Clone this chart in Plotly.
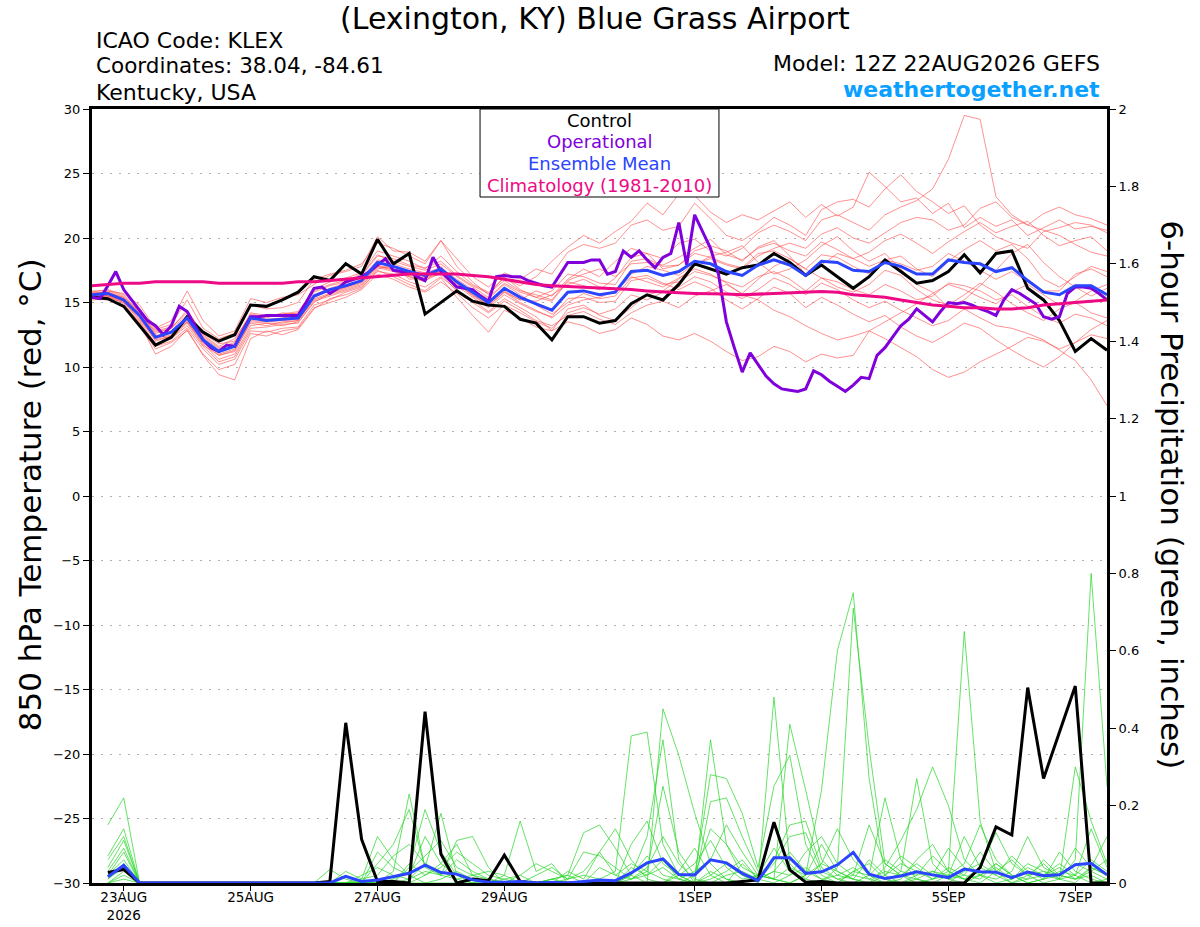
import pandas as pd
import plotly.graph_objects as go

# time axes: 6-hourly ensemble output, 3-hourly operational run
times = pd.date_range("2026-08-22 12:00", periods=65, freq="6h")
op_times = pd.date_range("2026-08-22 12:00", periods=129, freq="3h")
precip_times = times[1:]

tick_dates = ["2026-08-23", "2026-08-25", "2026-08-27", "2026-08-29",
              "2026-09-01", "2026-09-03", "2026-09-05", "2026-09-07"]
tick_labels = ["23AUG<br>2026", "25AUG", "27AUG", "29AUG", "1SEP", "3SEP", "5SEP", "7SEP"]

# 850 hPa temperature (C)
control_t = [15.4, 15.3, 14.7, 13.2, 11.7, 12.3, 13.9, 12.7, 12.0, 12.5, 14.8, 14.7, 15.2,
             15.8, 17.0, 16.7, 18.0, 17.2, 19.9, 18.0, 18.8, 14.1, 15.0, 15.9, 15.1, 14.8,
             14.7, 13.7, 13.4, 12.1, 13.9, 13.9, 13.4, 13.6, 14.9, 15.6, 15.2, 16.4, 18.0,
             17.6, 17.2, 17.7, 17.9, 18.8, 18.1, 17.1, 17.9, 17.0, 16.1, 17.0, 18.3, 17.4,
             16.5, 16.7, 17.4, 18.7, 17.3, 18.8, 19.0, 16.1, 15.2, 13.6, 11.2, 12.2, 11.3]
mean_t = [15.6, 15.7, 15.2, 14.0, 12.3, 12.7, 13.8, 12.1, 11.2, 11.6, 13.8, 13.6, 13.7,
          13.8, 15.5, 16.0, 16.3, 16.7, 18.1, 17.8, 17.4, 17.1, 17.6, 16.6, 15.8, 15.0,
          16.1, 15.4, 14.9, 14.4, 15.8, 15.9, 15.6, 15.8, 17.4, 17.5, 17.1, 17.4, 18.2,
          18.0, 17.4, 17.1, 17.9, 18.3, 17.9, 17.1, 18.2, 18.1, 17.5, 17.4, 18.1, 17.8,
          17.2, 17.2, 18.3, 18.1, 18.0, 17.4, 17.7, 16.7, 15.8, 15.6, 16.3, 16.3, 15.6]
clim_t = [16.3, 16.4, 16.5, 16.5, 16.6, 16.6, 16.6, 16.6, 16.5, 16.5, 16.5, 16.5, 16.5,
          16.6, 16.6, 16.7, 16.8, 16.9, 17.0, 17.1, 17.2, 17.2, 17.2, 17.2, 17.1, 17.0,
          16.8, 16.6, 16.4, 16.3, 16.25, 16.2, 16.15, 16.1, 16.0, 15.9, 15.8, 15.75, 15.7,
          15.7, 15.65, 15.6, 15.65, 15.7, 15.8, 15.85, 15.85, 15.8, 15.6, 15.5, 15.4, 15.2,
          15.0, 14.8, 14.7, 14.6, 14.6, 14.5, 14.5, 14.6, 14.8, 14.9, 15.0, 15.1, 15.2]
oper_t = [15.4, 15.3, 16.3, 17.4, 16.0, 15.2, 14.4, 13.6, 13.2, 12.5, 13.2, 14.7, 14.3, 13.2, 12.1, 11.5,
          11.2, 11.7, 11.6, 12.8, 13.9, 13.9, 14.0, 14.0, 14.0, 14.0, 14.0, 15.0, 16.1, 16.2, 15.7, 16.1,
          16.6, 16.8, 17.0, 17.4, 17.9, 18.4, 17.5, 17.4, 17.4, 17.0, 16.7, 18.5, 17.4, 16.8, 16.2, 16.1,
          16.0, 15.5, 15.1, 17.0, 17.1, 17.0, 17.0, 16.7, 16.5, 16.3, 16.2, 17.2, 18.1, 18.1, 18.1, 18.3,
          18.3, 17.2, 17.4, 19.0, 18.5, 19.0, 18.3, 17.7, 18.5, 18.8, 21.2, 17.9, 21.8, 20.5, 19.2, 17.2,
          13.5, 11.5, 9.6, 11.1, 10.2, 9.3, 8.7, 8.3, 8.2, 8.1, 8.3, 9.7, 9.4, 8.9, 8.5, 8.1,
          8.6, 9.2, 9.1, 10.9, 11.5, 12.4, 13.2, 13.7, 14.5, 14.0, 13.5, 14.3, 15.0, 14.9, 15.0, 14.8,
          14.5, 14.3, 14.0, 15.2, 16.0, 15.7, 15.3, 14.9, 13.9, 13.7, 13.9, 15.7, 16.2, 16.2, 16.1, 15.7,
          15.2]

t01 = [15.8, 16.0, 15.6, 14.5, 12.9, 13.3, 15.2, 13.0, 12.2, 12.6, 14.8, 14.5, 14.6,
       15.0, 16.8, 17.2, 17.5, 18.0, 19.6, 19.2, 18.6, 18.0, 19.8, 18.4, 17.0, 16.2,
       17.3, 16.8, 17.6, 17.2, 18.9, 19.5, 19.2, 19.6, 21.0, 21.4, 20.6, 20.9, 22.7,
       21.5, 20.2, 19.8, 20.6, 21.6, 21.0, 20.2, 22.2, 22.8, 23.0, 22.4, 23.8, 24.9,
       23.6, 22.8, 21.9, 22.5, 21.0, 20.1, 19.6, 19.2, 20.5, 20.8, 21.2, 21.0, 20.4]
t02 = [15.5, 15.4, 15.0, 13.8, 12.0, 12.4, 13.5, 11.8, 10.6, 11.0, 13.2, 13.4, 13.2,
       13.5, 15.0, 15.7, 16.2, 16.6, 17.8, 17.5, 17.0, 16.6, 17.8, 16.5, 15.6, 14.7,
       15.8, 15.2, 15.9, 15.5, 16.8, 17.6, 17.0, 18.2, 19.2, 18.8, 18.4, 19.6, 19.9,
       19.0, 18.6, 19.2, 20.4, 21.0, 20.5, 19.8, 21.4, 21.8, 21.2, 20.6, 21.8, 22.4,
       22.9, 23.8, 26.1, 29.5, 29.2, 23.2, 21.8, 21.0, 20.6, 20.2, 19.5, 18.9, 18.6]
t03 = [15.3, 15.2, 14.8, 13.2, 11.4, 11.9, 12.8, 11.0, 9.8, 10.2, 12.6, 12.4, 12.8,
       13.0, 14.6, 15.0, 15.4, 16.0, 17.2, 16.8, 16.2, 15.8, 16.6, 15.7, 14.6, 13.8,
       14.8, 14.2, 13.5, 13.0, 14.2, 14.6, 14.1, 14.5, 15.6, 15.2, 15.8, 16.2, 17.0,
       16.6, 15.8, 15.3, 16.0, 16.9, 16.4, 15.6, 16.5, 16.0, 15.2, 14.6, 15.1, 14.4,
       13.8, 13.2, 13.6, 14.5, 13.8, 13.2, 13.0, 12.6, 12.1, 11.3, 10.5, 9.0, 7.0]
t04 = [15.6, 15.5, 15.3, 14.2, 12.5, 12.2, 13.2, 11.6, 10.4, 10.8, 13.0, 13.1, 13.3,
       13.4, 15.1, 15.5, 15.9, 16.3, 17.6, 17.9, 16.8, 16.9, 17.2, 15.9, 15.2, 14.3,
       15.3, 14.6, 13.9, 12.8, 13.5, 13.2, 12.6, 12.9, 13.8, 13.3, 12.4, 12.1, 12.6,
       12.0, 11.2, 10.5, 10.8, 11.6, 11.2, 10.4, 11.0, 10.7, 10.9, 12.8, 12.2, 11.5,
       10.8, 9.8, 9.2, 9.6, 10.4, 11.0, 11.6, 12.3, 12.0, 11.4, 11.9, 12.5, 12.2]
t05 = [15.9, 15.9, 15.5, 14.3, 12.6, 13.0, 14.4, 12.6, 11.8, 12.0, 14.2, 14.0, 14.1,
       14.3, 16.0, 16.6, 16.9, 17.3, 19.0, 18.6, 18.2, 17.6, 18.6, 17.4, 16.4, 15.8,
       16.9, 16.3, 17.0, 18.2, 19.3, 20.2, 19.6, 20.5, 21.3, 22.7, 21.8, 23.4, 23.3,
       22.0, 21.2, 21.8, 21.4, 22.1, 22.8, 21.6, 22.6, 21.7, 22.4, 25.1, 24.0, 22.8,
       23.1, 21.9, 22.7, 20.8, 21.6, 20.9, 21.4, 20.2, 20.8, 21.4, 20.7, 20.9, 20.6]
t06 = [15.4, 15.6, 15.0, 13.6, 11.8, 12.2, 13.4, 11.7, 10.9, 11.3, 13.4, 13.2, 13.5,
       13.6, 15.2, 15.6, 16.0, 16.4, 17.7, 17.4, 17.0, 16.7, 17.3, 16.3, 15.4, 14.6,
       15.6, 14.9, 14.3, 13.9, 15.3, 15.4, 15.0, 15.1, 16.7, 16.9, 16.4, 16.6, 17.4,
       17.1, 16.6, 16.2, 17.0, 17.4, 16.8, 15.9, 16.9, 16.6, 16.0, 15.6, 16.4, 15.9,
       15.2, 15.5, 16.5, 16.3, 15.9, 15.2, 15.6, 14.7, 13.9, 13.4, 14.1, 13.8, 13.2]
t07 = [15.7, 15.5, 14.9, 13.4, 11.0, 11.6, 12.9, 10.9, 9.4, 9.0, 12.2, 12.8, 12.5,
       12.9, 14.5, 15.3, 15.6, 16.1, 17.5, 17.0, 16.4, 15.9, 16.9, 15.4, 14.0, 12.7,
       14.4, 13.8, 13.1, 12.8, 14.5, 14.8, 14.0, 13.6, 14.6, 15.6, 15.9, 16.8, 17.9,
       18.6, 18.9, 19.4, 18.1, 17.2, 17.6, 18.3, 19.4, 20.1, 19.0, 18.2, 18.8, 17.6,
       16.4, 15.8, 14.6, 15.2, 16.3, 17.5, 18.8, 19.5, 18.1, 17.0, 16.2, 15.5, 16.1]
t08 = [15.6, 15.9, 15.7, 14.8, 13.0, 13.6, 15.9, 13.6, 12.4, 12.8, 15.3, 15.0, 15.4,
       15.6, 16.4, 17.1, 17.4, 17.8, 20.1, 19.0, 18.9, 18.2, 19.8, 17.8, 16.6, 15.6,
       17.0, 16.0, 15.4, 15.1, 16.6, 16.3, 16.0, 16.9, 18.5, 18.8, 17.6, 17.9, 19.0,
       19.4, 19.0, 18.2, 19.3, 19.8, 18.6, 17.2, 17.9, 18.8, 18.4, 17.8, 18.3, 18.6,
       17.6, 17.0, 18.2, 19.1, 19.8, 19.0, 19.5, 18.4, 16.8, 16.2, 17.0, 17.8, 17.4]
t09 = [15.5, 15.8, 15.3, 14.1, 12.4, 12.8, 13.9, 12.3, 11.4, 11.8, 13.9, 13.7, 13.8,
       14.0, 15.6, 16.1, 16.5, 16.9, 18.3, 18.0, 17.6, 17.3, 17.7, 16.8, 16.0, 15.3,
       16.4, 15.6, 14.8, 14.1, 15.0, 15.7, 15.3, 15.5, 16.9, 17.1, 16.5, 16.0, 16.6,
       16.1, 15.2, 14.5, 15.3, 16.2, 15.7, 14.6, 15.4, 14.8, 14.1, 13.5, 14.0, 13.1,
       12.4, 11.9, 12.6, 13.4, 13.0, 12.1, 11.3, 10.6, 10.0, 10.8, 11.9, 12.9, 13.6]
t10 = [15.8, 15.7, 15.4, 14.3, 12.8, 13.1, 14.2, 12.5, 11.6, 12.2, 14.0, 13.8, 14.2,
       14.1, 15.8, 16.3, 16.6, 17.1, 18.6, 18.4, 17.9, 17.7, 18.2, 17.1, 16.3, 15.7,
       16.7, 15.9, 15.6, 15.2, 16.7, 17.2, 17.6, 17.0, 18.0, 18.1, 17.9, 18.5, 19.2,
       19.9, 18.7, 18.3, 19.2, 19.6, 19.0, 18.6, 19.7, 19.1, 18.4, 18.9, 19.8, 20.3,
       19.6, 18.8, 19.7, 20.5, 21.2, 20.4, 20.9, 21.3, 20.2, 19.4, 19.8, 20.1, 19.0]
t11 = [15.2, 15.3, 14.7, 13.5, 11.6, 12.0, 13.0, 11.4, 10.2, 10.6, 12.8, 12.7, 13.0,
       13.1, 14.8, 15.2, 15.8, 16.2, 17.4, 17.2, 16.6, 16.2, 17.0, 16.0, 15.0, 14.2,
       15.1, 14.4, 13.6, 13.2, 14.0, 14.3, 13.7, 13.3, 14.2, 14.8, 15.1, 14.6, 15.5,
       15.9, 16.4, 15.7, 16.8, 17.8, 18.4, 17.6, 16.9, 16.2, 15.8, 16.4, 17.5, 17.1,
       16.0, 15.2, 14.8, 15.6, 16.5, 15.8, 14.9, 14.2, 13.6, 14.5, 15.0, 14.2, 13.8]
t12 = [15.6, 15.6, 15.1, 13.9, 12.2, 12.5, 13.6, 12.0, 11.0, 11.4, 13.6, 13.5, 13.6,
       13.7, 15.4, 15.9, 16.2, 16.6, 17.9, 17.6, 17.2, 17.0, 17.4, 16.4, 15.6, 14.9,
       15.9, 15.2, 15.1, 15.6, 16.4, 16.8, 16.2, 16.0, 17.2, 17.8, 17.5, 17.1, 18.0,
       18.4, 17.9, 17.6, 18.6, 19.2, 19.6, 19.2, 20.3, 20.8, 20.0, 19.6, 20.4, 21.2,
       21.6, 21.4, 20.6, 21.0, 22.3, 22.8, 21.6, 21.0, 21.9, 22.4, 21.8, 21.5, 21.0]
t13 = [15.4, 15.5, 15.1, 13.7, 12.1, 12.4, 13.5, 11.9, 10.9, 11.2, 13.5, 13.4, 13.4,
       13.6, 15.3, 15.7, 16.1, 16.5, 17.8, 17.6, 17.1, 16.9, 17.5, 16.5, 15.5, 14.8,
       15.8, 15.0, 14.4, 13.8, 14.8, 15.2, 15.4, 15.9, 17.0, 16.6, 16.2, 16.9, 17.6,
       17.2, 16.5, 15.6, 15.2, 14.4, 13.9, 13.2, 12.6, 12.1, 12.4, 12.8, 13.5, 14.2,
       14.9, 15.7, 16.4, 16.0, 15.4, 14.9, 15.8, 16.4, 15.6, 14.8, 15.1, 15.9, 16.4]
t14 = [15.7, 15.8, 15.4, 14.2, 12.7, 13.0, 14.0, 12.4, 11.5, 11.9, 14.1, 13.9, 14.0,
       14.2, 15.9, 16.4, 16.7, 17.2, 18.7, 18.2, 17.8, 17.5, 18.0, 17.0, 16.2, 15.4,
       16.5, 15.8, 15.4, 15.9, 17.2, 17.0, 16.5, 16.4, 18.2, 18.4, 17.8, 17.9, 18.8,
       18.5, 18.0, 17.7, 18.8, 19.0, 18.4, 17.6, 18.7, 18.5, 17.8, 17.2, 18.3, 18.0,
       17.5, 17.8, 18.8, 18.2, 17.5, 16.8, 17.4, 16.6, 15.9, 15.9, 17.2, 17.6, 17.0]

# 6-hour precipitation (inches), from +6h
control_p = [0.027, 0.035, 0, 0, 0, 0, 0, 0, 0, 0, 0, 0, 0, 0, 0.004, 0.414,
             0.113, 0.004, 0.004, 0, 0.443, 0.075, 0, 0.01, 0.006, 0.072, 0.004, 0, 0, 0, 0, 0,
             0, 0, 0, 0, 0, 0, 0, 0, 0.004, 0.008, 0.157, 0.034, 0.002, 0.004, 0, 0,
             0, 0, 0, 0, 0, 0, 0, 0.04, 0.145, 0.124, 0.505, 0.27, 0.39, 0.509, 0, 0]
mean_p = [0.016, 0.046, 0, 0, 0, 0, 0, 0, 0, 0, 0, 0, 0, 0, 0, 0.017,
          0.004, 0.008, 0.017, 0.025, 0.046, 0.027, 0.023, 0.008, 0.002, 0.002, 0.004, 0, 0.001, 0, 0.004, 0.008,
          0.006, 0.026, 0.052, 0.062, 0.022, 0.021, 0.060, 0.052, 0.025, 0.006, 0.065, 0.065, 0.025, 0.029, 0.047, 0.079,
          0.023, 0.012, 0.018, 0.029, 0.021, 0.014, 0.036, 0.029, 0.028, 0.014, 0.028, 0.019, 0.021, 0.047, 0.051, 0.021]

p01 = [0.15, 0.22, 0, 0, 0, 0, 0, 0, 0, 0, 0, 0, 0, 0, 0, 0,
       0.01, 0.12, 0.06, 0.02, 0, 0.01, 0.03, 0.01, 0, 0.02, 0.16, 0.03, 0.05, 0, 0, 0.01,
       0.03, 0.38, 0.39, 0.10, 0.02, 0, 0.01, 0.03, 0.06, 0.01, 0, 0.02, 0.04, 0.01, 0, 0.03,
       0.05, 0.01, 0, 0.02, 0.03, 0.01, 0, 0.02, 0.05, 0.02, 0, 0.01, 0.03, 0.02, 0, 0.01]
p02 = [0.07, 0.14, 0, 0, 0, 0, 0, 0, 0, 0, 0, 0, 0, 0, 0, 0,
       0, 0, 0.03, 0.23, 0.04, 0.18, 0.02, 0, 0.01, 0, 0, 0, 0.01, 0.02, 0.13, 0.15,
       0.09, 0.02, 0, 0.45, 0.33, 0.18, 0.05, 0.01, 0, 0.02, 0.01, 0, 0.02, 0.24, 0.60, 0.75,
       0.27, 0.02, 0, 0.01, 0, 0, 0.03, 0.05, 0.02, 0, 0.01, 0.02, 0.04, 0.01, 0.02, 0]
p03 = [0.06, 0.12, 0, 0, 0, 0, 0, 0, 0, 0, 0, 0, 0, 0, 0, 0,
       0, 0.05, 0.10, 0.19, 0.04, 0.02, 0.11, 0.12, 0.04, 0, 0.02, 0, 0.01, 0, 0, 0,
       0, 0.02, 0.12, 0.37, 0.06, 0, 0.37, 0.10, 0.02, 0, 0.48, 0.05, 0.01, 0, 0.04, 0.71,
       0.35, 0.05, 0.02, 0, 0.01, 0.03, 0.65, 0.16, 0.03, 0, 0.02, 0.05, 0.01, 0, 0.04, 0.02]
p04 = [0.04, 0.11, 0, 0, 0, 0, 0, 0, 0, 0, 0, 0, 0, 0, 0, 0,
       0, 0, 0, 0.04, 0.19, 0.08, 0.02, 0.01, 0, 0, 0, 0, 0, 0.01, 0.03, 0.08,
       0.02, 0.05, 0.03, 0.25, 0.08, 0.02, 0.28, 0.27, 0.18, 0.04, 0.25, 0.33, 0.10, 0.02, 0, 0.03,
       0.02, 0.22, 0.06, 0.01, 0, 0.02, 0.01, 0, 0.03, 0.06, 0.02, 0, 0.01, 0.30, 0.16, 0.05]
p05 = [0.03, 0.09, 0, 0, 0, 0, 0, 0, 0, 0, 0, 0, 0, 0, 0, 0.03,
       0.01, 0.02, 0.07, 0.10, 0.05, 0.02, 0.06, 0.03, 0.01, 0, 0, 0.02, 0.04, 0.01, 0.08, 0.07,
       0.04, 0.01, 0.02, 0.04, 0.01, 0, 0.21, 0.22, 0.12, 0.03, 0.01, 0.41, 0.24, 0.06, 0.02, 0.01,
       0, 0.04, 0.11, 0.19, 0.30, 0.20, 0.06, 0.02, 0, 0.01, 0.04, 0.02, 0.01, 0.06, 0.80, 0.25]
p06 = [0.02, 0.08, 0, 0, 0, 0, 0, 0, 0, 0, 0, 0, 0, 0, 0.035, 0.01,
       0, 0.08, 0.04, 0.02, 0.12, 0.05, 0.10, 0.02, 0, 0, 0, 0, 0, 0.03, 0.01, 0.08,
       0.14, 0.06, 0.01, 0, 0.02, 0.05, 0.11, 0.04, 0.01, 0.02, 0.09, 0.03, 0.01, 0.05, 0.14, 0.06,
       0.02, 0, 0.03, 0.27, 0.05, 0.01, 0.02, 0.08, 0.03, 0.01, 0.05, 0.03, 0.02, 0.01, 0.04, 0.02]
p07 = [0.02, 0.06, 0, 0, 0, 0, 0, 0, 0, 0, 0, 0, 0, 0, 0, 0,
       0, 0, 0.01, 0.03, 0.07, 0.11, 0.04, 0.02, 0.01, 0, 0, 0, 0, 0, 0, 0,
       0, 0.10, 0.16, 0.05, 0.02, 0, 0.03, 0.01, 0, 0.02, 0.06, 0.15, 0.16, 0.04, 0.01, 0,
       0.02, 0.06, 0.03, 0.02, 0.07, 0.03, 0.01, 0.04, 0.13, 0.05, 0.02, 0.03, 0.01, 0.02, 0.06, 0.03]
p08 = [0.01, 0.05, 0, 0, 0, 0, 0, 0, 0, 0, 0, 0, 0, 0, 0, 0,
       0.02, 0.04, 0.02, 0.01, 0.03, 0.02, 0.01, 0.02, 0.03, 0.02, 0, 0, 0, 0, 0, 0,
       0, 0, 0, 0, 0.03, 0.09, 0.02, 0, 0.05, 0.01, 0.03, 0.02, 0.08, 0.12, 0.05, 0.02,
       0.01, 0.03, 0.02, 0.05, 0.02, 0.09, 0.04, 0.02, 0.01, 0.03, 0.12, 0.04, 0.02, 0.05, 0.03, 0.01]
p09 = [0.01, 0.04, 0, 0, 0, 0, 0, 0, 0, 0, 0, 0, 0, 0, 0, 0,
       0, 0, 0, 0.05, 0.02, 0.04, 0.08, 0.05, 0.02, 0.01, 0, 0, 0.01, 0.02, 0, 0.04,
       0.02, 0.01, 0.04, 0.12, 0.05, 0.01, 0, 0.02, 0.03, 0.01, 0.05, 0.12, 0.13, 0.03, 0.01, 0.02,
       0.15, 0.05, 0.02, 0.01, 0.03, 0.02, 0.05, 0.15, 0.06, 0.02, 0, 0.01, 0.08, 0.03, 0.01, 0]
p10 = [0, 0.03, 0, 0, 0, 0, 0, 0, 0, 0, 0, 0, 0, 0, 0, 0,
       0, 0, 0, 0.01, 0.05, 0.03, 0.01, 0, 0, 0, 0, 0, 0, 0, 0, 0,
       0, 0.02, 0.07, 0.02, 0.01, 0.03, 0.06, 0.15, 0.08, 0.02, 0.01, 0.04, 0.02, 0.10, 0.03, 0.01,
       0.06, 0.02, 0.07, 0.04, 0.01, 0.02, 0.12, 0.04, 0.02, 0.07, 0.03, 0.01, 0.02, 0.09, 0.04, 0.12]
p11 = [0, 0.02, 0, 0, 0, 0, 0, 0, 0, 0, 0, 0, 0, 0, 0, 0,
       0, 0, 0, 0, 0, 0, 0, 0, 0, 0.01, 0.02, 0.05, 0.03, 0.01, 0.02, 0.01,
       0, 0.01, 0.03, 0.01, 0, 0.02, 0.14, 0.10, 0.04, 0.02, 0.01, 0, 0.02, 0.05, 0.03, 0.01,
       0, 0.02, 0.05, 0.03, 0.01, 0.04, 0.02, 0.01, 0.05, 0.02, 0.01, 0.06, 0.02, 0.01, 0.03, 0.06]
p12 = [0, 0.01, 0, 0, 0, 0, 0, 0, 0, 0, 0, 0, 0, 0, 0, 0,
       0, 0, 0, 0, 0.02, 0.05, 0.02, 0.01, 0, 0, 0, 0, 0, 0, 0, 0,
       0, 0.04, 0.02, 0.06, 0.01, 0, 0.02, 0.05, 0.02, 0.01, 0.03, 0.08, 0.03, 0.01, 0.02, 0.04,
       0.01, 0, 0.01, 0.06, 0.10, 0.03, 0.01, 0.02, 0.04, 0.01, 0.03, 0.02, 0.05, 0.02, 0.14, 0.04]

temp_members = [t01, t02, t03, t04, t05, t06, t07, t08, t09, t10, t11, t12, t13, t14]
precip_members = [p01, p02, p03, p04, p05, p06, p07, p08, p09, p10, p11, p12]

FONT = "DejaVu Sans, Liberation Sans, sans-serif"
OP_COLOR = "#8000dc"
MEAN_COLOR = "#2a44ff"
CLIM_COLOR = "#ee0a85"

fig = go.Figure()

for m in temp_members:
    fig.add_trace(go.Scatter(x=times, y=m, mode="lines", line=dict(color="rgba(255,70,70,0.75)", width=0.8)))
for m in precip_members:
    fig.add_trace(go.Scatter(x=precip_times, y=m, mode="lines", yaxis="y2",
                             line=dict(color="rgba(40,215,40,0.9)", width=0.8)))

fig.add_trace(go.Scatter(x=precip_times, y=control_p, mode="lines", yaxis="y2", line=dict(color="black", width=3)))
fig.add_trace(go.Scatter(x=precip_times, y=mean_p, mode="lines", yaxis="y2", line=dict(color=MEAN_COLOR, width=3)))
fig.add_trace(go.Scatter(x=times, y=control_t, mode="lines", line=dict(color="black", width=3)))
fig.add_trace(go.Scatter(x=op_times, y=oper_t, mode="lines", line=dict(color=OP_COLOR, width=3)))
fig.add_trace(go.Scatter(x=times, y=mean_t, mode="lines", line=dict(color=MEAN_COLOR, width=3)))
fig.add_trace(go.Scatter(x=times, y=clim_t, mode="lines", line=dict(color=CLIM_COLOR, width=3)))

fig.update_layout(
    width=1200, height=927,
    margin=dict(l=92, r=93, t=109, b=44),
    paper_bgcolor="white", plot_bgcolor="white",
    showlegend=False,
    font=dict(family=FONT, color="black"),
    xaxis=dict(range=["2026-08-22 12:00", "2026-09-07 12:00"], tickvals=tick_dates, ticktext=tick_labels,
               showline=True, linewidth=3, linecolor="black", mirror=True, showgrid=False, zeroline=False,
               ticks="outside", ticklen=5, tickcolor="black", tickfont=dict(size=13.5), automargin=False,
               ticklabelstandoff=-5),
    yaxis=dict(range=[-30, 30], tick0=-30, dtick=5, showline=True, linewidth=3, linecolor="black",
               ticks="outside", ticklen=6, tickcolor="black", tickfont=dict(size=13), automargin=False,
               showgrid=True, gridcolor="#b0b0b0", gridwidth=1, griddash="2px,7px", zeroline=False),
    yaxis2=dict(range=[0, 2], tick0=0, dtick=0.2, overlaying="y", side="right", showline=True, linewidth=3,
                linecolor="black", ticks="outside", ticklen=6, tickcolor="black", tickfont=dict(size=13),
                showgrid=False, zeroline=False, automargin=False),
)

# legend box
fig.add_shape(type="rect", xref="paper", yref="paper", x0=0.3823, x1=0.6177, y0=0.8863, y1=1.0,
              line=dict(color="black", width=1), fillcolor="white", layer="above")
legend_rows = [("Control", "black", 0.9845), ("Operational", OP_COLOR, 0.9574),
               ("Ensemble Mean", MEAN_COLOR, 0.9302), ("Climatology (1981-2010)", CLIM_COLOR, 0.9018)]
for txt, col, yy in legend_rows:
    fig.add_annotation(xref="paper", yref="paper", x=0.5, y=yy, text=txt, showarrow=False,
                       xanchor="center", yanchor="middle", font=dict(size=18, color=col))

notes = [
    dict(text="(Lexington, KY) Blue Grass Airport", x=0.4956, y=1.1163, xanchor="center", yanchor="middle",
         font=dict(size=30)),
    dict(text="ICAO Code: KLEX", x=0.002, y=1.089, xanchor="left", yanchor="middle", font=dict(size=22)),
    dict(text="Coordinates: 38.04, -84.61", x=0.002, y=1.0556, xanchor="left", yanchor="middle", font=dict(size=21.5)),
    dict(text="Kentucky, USA", x=0.002, y=1.0207, xanchor="left", yanchor="middle", font=dict(size=22)),
    dict(text="Model: 12Z 22AUG2026 GEFS", x=0.995, y=1.0594, xanchor="right", yanchor="middle", font=dict(size=22)),
    dict(text="<b>weathertogether.net</b>", x=0.995, y=1.0258, xanchor="right", yanchor="middle",
         font=dict(size=22, color="#0aa0ff")),
    dict(text="850 hPa Temperature (red, °C)", x=-0.061, y=0.501, xanchor="center", yanchor="middle",
         textangle=-90, font=dict(size=31)),
    dict(text="6-hour Precipitation (green, inches)", x=1.064, y=0.501, xanchor="center", yanchor="middle",
         textangle=90, font=dict(size=31)),
]
for n in notes:
    fig.add_annotation(xref="paper", yref="paper", showarrow=False, **n)

# drop the default 8px page margin so the figure fills the window exactly
fig.write_html("out.html", config={"displayModeBar": False},
               post_script="document.body.style.margin='0';document.body.style.overflow='hidden';")
